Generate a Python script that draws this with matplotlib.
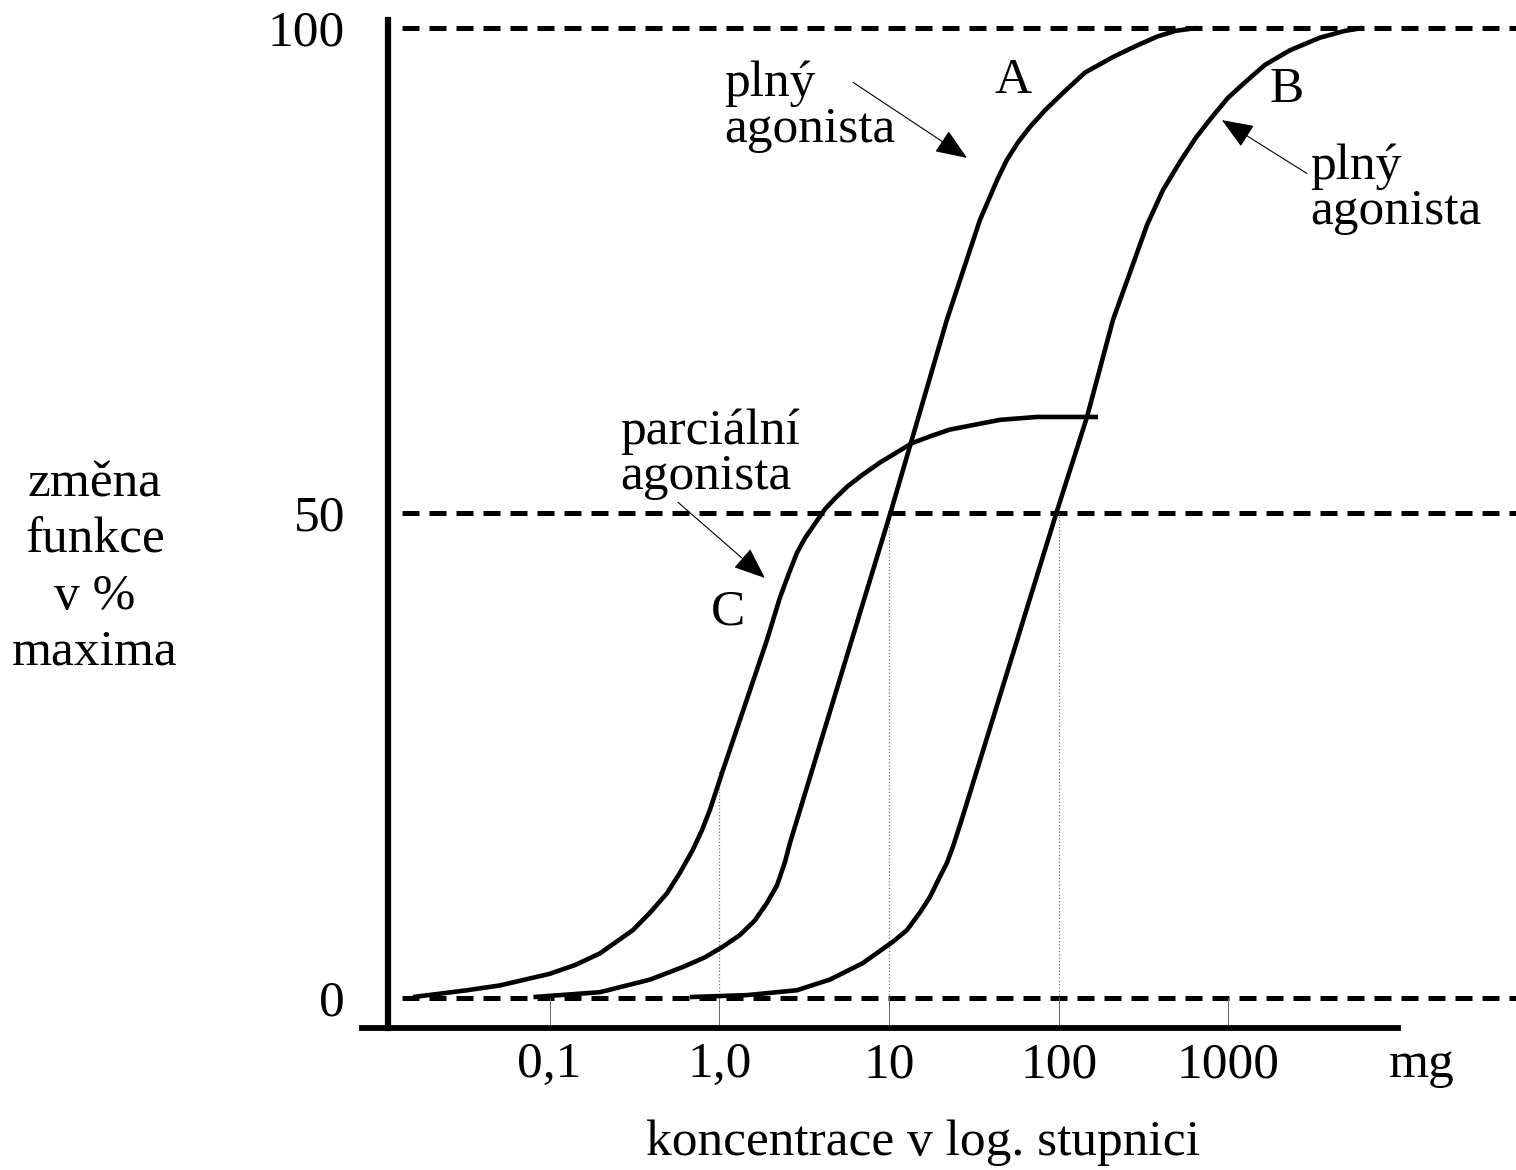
import matplotlib.pyplot as plt
import numpy as np

# values: log10(dose in mg) and response in % of maximum
logdose_A = [-1.095, -0.703, -0.408, -0.214, -0.084, 0.022, 0.122, 0.210, 0.281, 0.340,
             0.387, 0.417, 1.012, 1.341, 1.536, 1.595, 1.642, 1.695, 1.760,
             1.831, 1.919, 2.025, 2.155, 2.32, 2.450, 2.579, 2.686, 2.815]
resp_A = [0.1, 0.6, 1.9, 3.2, 4.2, 5.3, 6.5, 8.0, 9.8, 11.6,
          14.0, 16.0, 50.2, 69.9, 80.2, 82.6, 84.5, 86.4, 88.2,
          89.8, 91.5, 93.3, 95.4, 97.0, 98.1, 99.1, 99.7, 100.0]

logdose_B = [-0.173, 0.163, 0.457, 0.652, 0.846, 1.023, 1.106, 1.182, 1.241, 1.300,
             1.341, 1.377, 1.418, 1.459, 1.99, 2.167, 2.32, 2.521, 2.615,
             2.715, 2.809, 2.903, 2.998, 3.098, 3.216, 3.363, 3.540, 3.687, 3.792]
resp_B = [0.1, 0.3, 0.8, 1.9, 3.6, 5.8, 7.0, 8.8, 10.4, 12.5,
          13.9, 15.6, 17.8, 20.1, 50.2, 59.9, 69.9, 79.7, 83.3,
          86.2, 88.7, 90.8, 92.8, 94.4, 96.2, 97.7, 99.0, 99.7, 100.0]

logdose_C = [-1.805, -1.487, -1.292, -0.998, -0.850, -0.703, -0.509, -0.408, -0.308, -0.232,
             -0.155, -0.102, -0.055, 0.022, 0.281, 0.358, 0.411, 0.458, 0.505, 0.552,
             0.623, 0.682, 0.753, 0.841, 0.947, 1.136, 1.242, 1.359, 1.654, 1.872, 2.232]
resp_C = [0.1, 0.8, 1.3, 2.5, 3.4, 4.6, 7.0, 8.8, 10.8, 12.9,
          15.3, 17.3, 19.4, 23.5, 36.9, 41.3, 43.8, 45.9, 47.4, 48.6,
          50.4, 51.5, 52.7, 53.9, 55.2, 57.2, 57.9, 58.6, 59.6, 59.9, 59.9]

dose_ticks = [0.1, 1, 10, 100, 1000]
dose_labels = ['0,1', '1,0', '10', '100', '1000']
levels = [0, 50, 100]
guide_doses = [1, 10, 100]
guide_levels = [23.5, 50, 50]

plt.rcParams['font.family'] = 'Liberation Serif'
FS = 37

fig = plt.figure(figsize=(15.16, 11.7), dpi=100)
ax = fig.add_axes([388 / 1516, 1 - 1028 / 1170, 1128 / 1516, 1008 / 1170])
ax.set_xscale('log')
ax.set_xlim(10 ** -1.952, 10 ** 4.695)
ax.set_ylim(-3.09, 100.82)

for s in ['top', 'right']:
    ax.spines[s].set_visible(False)
ax.spines['left'].set_linewidth(4.5)
ax.spines['bottom'].set_linewidth(4.2)
ax.spines['bottom'].set_bounds(10 ** -2.105, 10 ** 3.999)

# dashed reference levels
for v in levels:
    ax.axhline(v, xmin=0.012, xmax=1, color='k', lw=3.6, dashes=(3.4, 2.0), zorder=1)

# thin guides from the axis to the curves
ax.vlines(guide_doses, 0, guide_levels, colors='0.45', linestyles=':', lw=0.9, zorder=1)

# curves
for xs, ys in [(logdose_A, resp_A), (logdose_B, resp_B), (logdose_C, resp_C)]:
    ax.plot(10 ** np.array(xs), ys, color='k', lw=3.3, solid_capstyle='butt',
            solid_joinstyle='round', zorder=3)

ax.set_xticks(dose_ticks)
ax.set_xticklabels(dose_labels, fontsize=FS)
ax.set_xticks([10 ** 4.14], minor=True)
ax.set_xticklabels(['mg'], minor=True, fontsize=FS)
ax.tick_params(axis='x', which='major', direction='in', length=21.6, width=0.7,
               color='0.4', pad=10)
ax.tick_params(axis='x', which='minor', length=0, pad=10)

ax.set_yticks(levels)
ax.set_yticklabels([str(v) for v in levels], fontsize=FS)
ax.set_yticks([100], minor=True)
ax.tick_params(axis='y', which='major', length=0, pad=31)
ax.tick_params(axis='y', which='minor', direction='out', length=18, width=3, color='k')

# labels
fig.text(923 / 1516, 1 - 1155 / 1170, 'koncentrace v log. stupnici', fontsize=FS,
         ha='center', va='baseline')
fig.text(95 / 1516, 1 - 461 / 1170, 'změna\nfunkce\nv %\nmaxima', fontsize=FS,
         ha='center', va='top', multialignment='center', linespacing=1.27)

# curve letters
ax.text(10 ** 1.731, 93.3, 'A', fontsize=FS, ha='center', va='baseline')
ax.text(10 ** 3.345, 92.4, 'B', fontsize=FS, ha='center', va='baseline')
ax.text(10 ** 0.051, 38.5, 'C', fontsize=FS, ha='center', va='baseline')

# annotations
ax.text(10 ** 0.027, 96.6, 'plný\nagonista', fontsize=FS, ha='left', va='top', linespacing=0.97)
ax.text(10 ** 3.481, 88.1, 'plný\nagonista', fontsize=FS, ha='left', va='top', linespacing=0.97)
ax.text(10 ** -0.585, 60.8, 'parciální\nagonista', fontsize=FS, ha='left', va='top', linespacing=0.97)

arrows = [((0.788, 94.4), (1.460, 86.6)),
          ((3.463, 85.0), (2.962, 90.5)),
          ((-0.243, 51.1), (0.269, 43.3))]
for (lx0, y0), (lx1, y1) in arrows:
    ax.annotate('', xy=(10 ** lx1, y1), xytext=(10 ** lx0, y0),
                arrowprops=dict(arrowstyle='-|>,head_length=1.0,head_width=0.4',
                                mutation_scale=20, lw=0.8, color='k',
                                shrinkA=0, shrinkB=0))

fig.savefig('out.png', dpi=100)
